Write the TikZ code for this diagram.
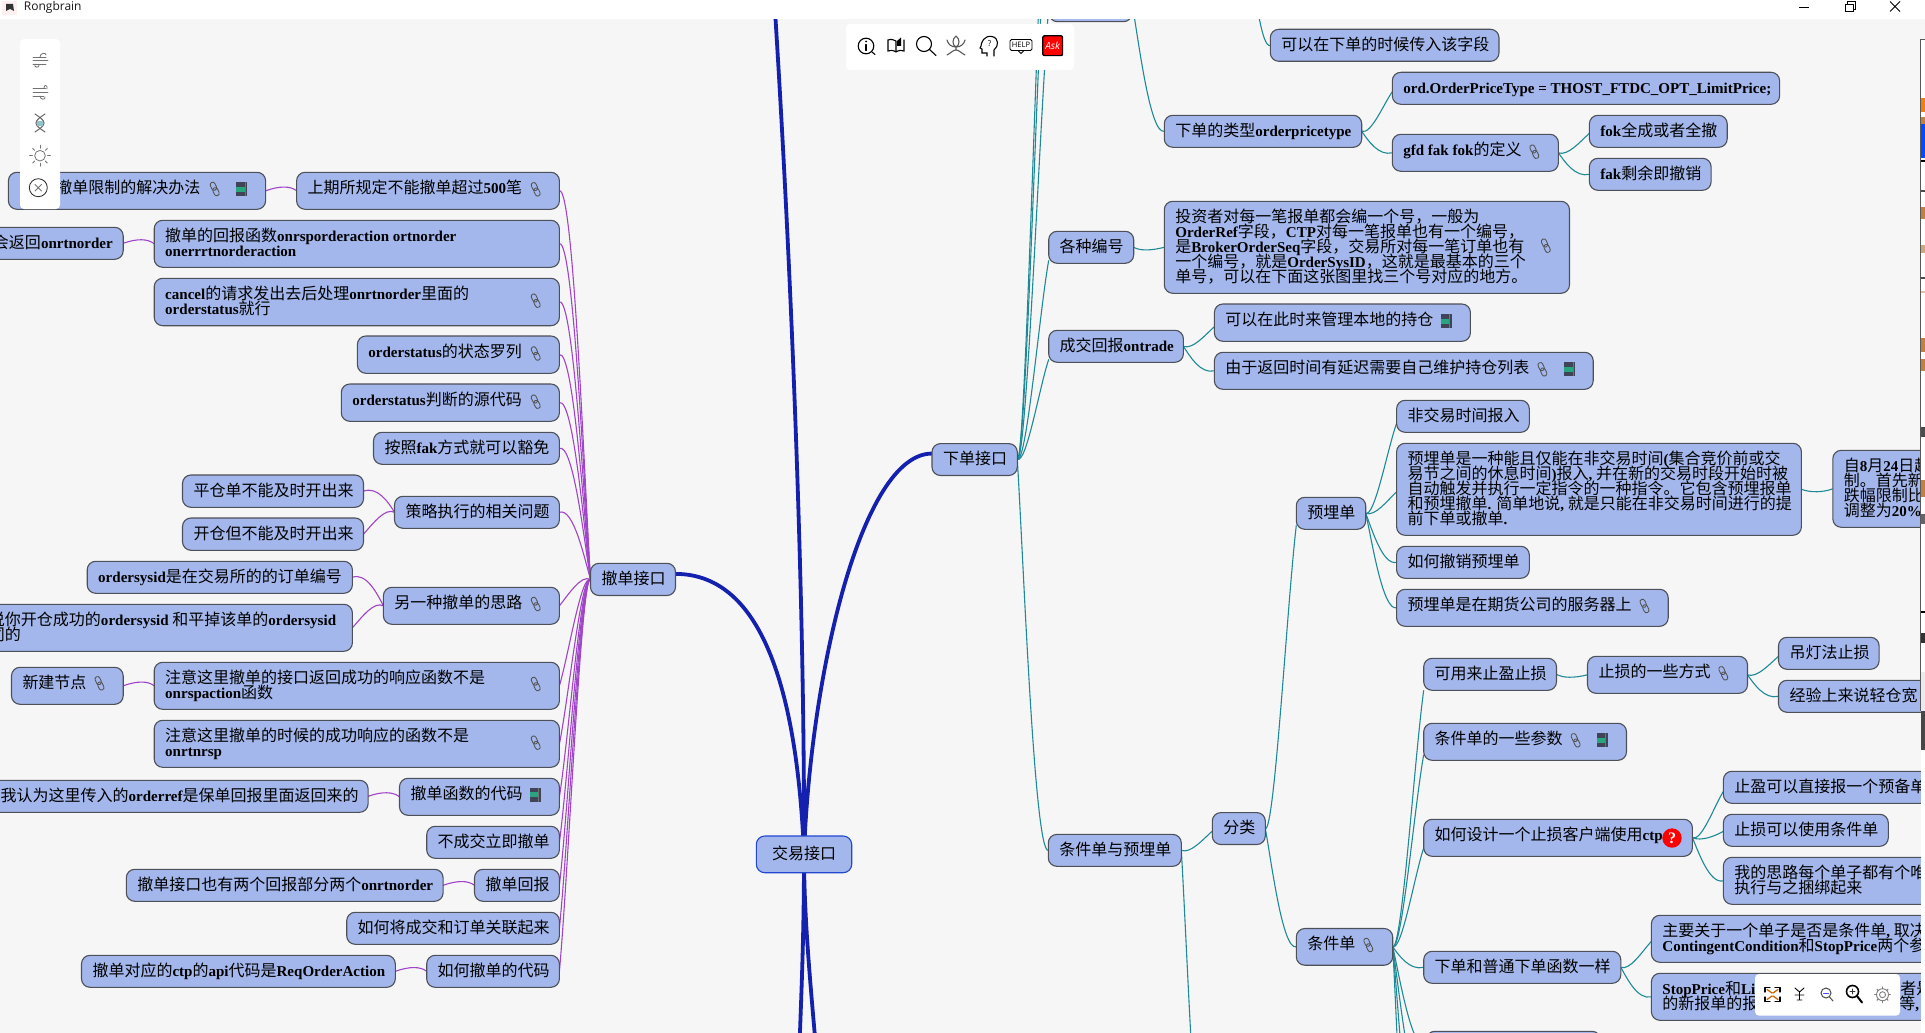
\documentclass[tikz,border=0pt]{standalone}
\usepackage{fontspec}
\setmainfont{Liberation Serif}
\newfontfamily\latfam{Liberation Serif}[Scale=0.94]
\newfontfamily\cjkfam{Noto Sans CJK SC}
\newfontfamily\uifam{Open Sans}
\usetikzlibrary{calc,backgrounds}
\definecolor{cbg}{HTML}{F6F6F6}
\definecolor{cfill}{HTML}{A3B7EC}
\definecolor{cedge}{HTML}{4D5058}
\definecolor{cteal}{HTML}{1F8A96}
\definecolor{cpurp}{HTML}{A044C8}
\definecolor{croot}{HTML}{1420AE}
\definecolor{crootb}{HTML}{2248D0}
\definecolor{cink}{HTML}{160A20}
\definecolor{cbook}{HTML}{3F4458}
\definecolor{cband}{HTML}{2AA37F}
\newcount\mycnt
\chardef\cjkclass=100
\mycnt="4E00
\loop\XeTeXcharclass\mycnt=\cjkclass\ifnum\mycnt<"9FFF\advance\mycnt by 1\repeat
\XeTeXcharclass"FF0C=\cjkclass
\XeTeXcharclass"3002=\cjkclass
\def\latsw{\latfam\bfseries}
\def\cjksw{\cjkfam\mdseries}
\XeTeXinterchartoks 0 \cjkclass={\cjksw}
\XeTeXinterchartoks 4095 \cjkclass={\cjksw}
\XeTeXinterchartoks \cjkclass 0={\latsw}
\XeTeXinterchartoks \cjkclass 4095={\latsw}
\XeTeXinterchartoks 4095 0={\latsw}
\XeTeXinterchartokenstate=1
\def\noint{\XeTeXinterchartokenstate=0\relax}
\tikzset{
 mbox/.style={draw=cedge,fill=cfill,line width=1.1pt,rounded corners=8.5pt,inner sep=0pt,outer sep=0pt,text=black,font=\fontsize{16}{15}\selectfont},
 rootbox/.style={mbox,draw=crootb},
 tealline/.style={draw=cteal,line width=1.1pt},
 purpline/.style={draw=cpurp,line width=1.1pt},
 rootline/.style={draw=croot,line width=3.8pt},
 panel/.style={fill=white,draw=none,rounded corners=4pt},
 iconline/.style={draw=black,line width=1.1pt},
 greyicon/.style={draw=black!55,line width=.8pt},
 linkicon/.style={draw=black!68,line width=.85pt},
 uitext/.style={inner sep=0pt,font=\noint\uifam\fontsize{#1}{#1}\selectfont},
 endpt/.style={inner sep=0pt,minimum size=0pt,outer sep=0pt}
}
\newcommand\bx[7][11]{%
 \pgfmathsetmacro\bW{#5-#3}\pgfmathsetmacro\bH{#6-#4}%
 \node[mbox,anchor=north west] (#2) at (#3,#4) {\parbox[c][\bH pt][t]{\bW pt}{\lineskiplimit=-100pt \leftskip=#1pt \rightskip=-600pt \parfillskip=0pt plus 1fil \leavevmode\rule{0pt}{21pt}#7}};}
\newcommand\off[3]{\node[endpt] (#1) at (#2,#3) {};}
\newcommand\cR[3][0]{\draw[tealline] let \p1=(#2.east),\p2=(#3.west),\n1={\x2-\x1},\n2={\y2-#1pt-\y1},\n3={ifthenelse(\y2>\y1,1,0)} in (\p1) .. controls ({\x1+(0.2+0.1*\n3)*\n1},{\y1+(0.25-0.25*\n3)*\n2-3.5pt}) and ({\x1+(0.55+0.15*\n3)*\n1},{\y1+(1-0.25*\n3)*\n2-3.5pt}) .. (\x2,{\y2-#1pt});}
\newcommand\cL[2]{\draw[purpline] let \p1=(#1.west),\p2=(#2.east),\n1={\x2-\x1},\n2={\y2-\y1},\n3={ifthenelse(\y2<\y1,1,0)} in (\p1) .. controls ({\x1+(0.2+0.1*\n3)*\n1},{\y1+(0.25-0.25*\n3)*\n2+5pt}) and ({\x1+(0.55+0.15*\n3)*\n1},{\y1+(1-0.25*\n3)*\n2+5pt}) .. (\p2);}
\newcommand\lk[2]{\begin{scope}[shift={(#1,#2)},rotate=-65]
 \draw[linkicon,rounded corners=2.4pt] (-7.2,-2.5) rectangle (1.2,2.5);
 \draw[linkicon,rounded corners=2.4pt] (-1.2,-2.5) rectangle (7.2,2.5);
 \end{scope}}
\newcommand\bk[2]{\begin{scope}[shift={(#1,#2)}]
 \fill[cbook] (-5.2,-7) rectangle (5.2,7);
 \fill[cband] (-5.2,-2.5) rectangle (3,2.5);
 \fill[black!55] (3,-7) rectangle (3.8,7);
 \end{scope}}
\begin{document}
\begin{tikzpicture}[x=1pt,y=-1pt]
\useasboundingbox (0,0) rectangle (1925,1033);
\begin{pgfonlayer}{background}
\fill[cbg] (0,0) rectangle (1925,1033);
\end{pgfonlayer}
% ---- centre
\node[rootbox,anchor=north west] (root) at (756.3,836) {\parbox[c][36.7pt][t]{95.4pt}{\lineskiplimit=-100pt \leftskip=15.7pt \rightskip=-600pt \leavevmode\rule{0pt}{23pt}交易接口}};
% ---- left side
\bx[11]{che}{590.5}{563.3}{675.5}{595.5}{撤单接口}
\bx[48]{limit}{8.4}{172.3}{265.6}{209.3}{撤单限制的解决办法}
\bx{b500}{296.6}{172.3}{559.4}{209.3}{上期所规定不能撤单超过500笔}
\bx{onrt}{-18}{227.3}{123.2}{259.3}{会返回onrtnorder}
\bx{func}{154.2}{220.3}{559.4}{267.3}{撤单的回报函数onrsporderaction ortnorder\\onerrrtnorderaction}
\bx{cancel}{154.2}{278.3}{559.4}{325.7}{cancel的请求发出去后处理onrtnorder里面的\\orderstatus就行}
\bx{slist}{357.4}{336}{559.4}{373.3}{orderstatus的状态罗列}
\bx{ssrc}{341.3}{384}{559.4}{421.3}{orderstatus判断的源代码}
\bx{fak}{373.5}{432.3}{559.4}{464.3}{按照fak方式就可以豁免}
\bx{ping}{182.5}{475}{363.5}{507.3}{平仓单不能及时开出来}
\bx{kai}{182.5}{518}{363.5}{550.3}{开仓但不能及时开出来}
\bx{strat}{394.5}{496.3}{559.4}{528.3}{策略执行的相关问题}
\bx{sysid}{87.2}{561.3}{352.4}{593.3}{ordersysid是在交易所的的订单编号}
\bx{shuo}{-22}{604.3}{352.4}{651.3}{说你开仓成功的ordersysid 和平掉该单的ordersysid\\同的}
\bx{other}{383.4}{587.3}{559.4}{624.3}{另一种撤单的思路}
\bx{newn}{11.5}{667.3}{123.2}{704.3}{新建节点}
\bx{att1}{154.2}{662.3}{559.4}{709.3}{注意这里撤单的接口返回成功的响应函数不是\\onrspaction函数}
\bx{att2}{154.2}{720.3}{559.4}{767.3}{注意这里撤单的时候的成功响应的函数不是\\onrtnrsp}
\bx{oref}{-10.4}{780.3}{368.1}{812.3}{我认为这里传入的orderref是保单回报里面返回来的}
\bx{cfun}{399.5}{778.3}{559.4}{815.3}{撤单函数的代码}
\bx{nofill}{426.7}{826.3}{559.4}{858.3}{不成交立即撤单}
\bx{two}{126.3}{869.3}{443.1}{901.3}{撤单接口也有两个回报部分两个onrtnorder}
\bx{rep}{474.5}{869.3}{559.4}{901.3}{撤单回报}
\bx{rel}{346.7}{912.3}{559.4}{944.3}{如何将成交和订单关联起来}
\bx{ctp}{81.5}{955.3}{395.3}{987.3}{撤单对应的ctp的api代码是ReqOrderAction}
\bx{how}{426.7}{955.3}{559.4}{987.3}{如何撤单的代码}
% ---- right side
\bx{xia}{932}{443.6}{1017.3}{475.5}{下单接口}
\bx{stub}{1049}{-15}{1132}{21.7}{}
\bx{chuan}{1270.3}{29.3}{1499}{61.3}{可以在下单的时候传入该字段}
\bx{xtype}{1164.3}{115.3}{1361.7}{147.3}{下单的类型orderpricetype}
\bx{ordp}{1392.3}{72.3}{1779.6}{104.3}{ord.OrderPriceType = THOST\_FTDC\_OPT\_LimitPrice;}
\bx{gfd}{1392.3}{134.3}{1558.4}{171.3}{gfd fak fok的定义}
\bx{fok}{1589.4}{115.3}{1727.2}{147.3}{fok全成或者全撤}
\bx{fakr}{1589.4}{158.3}{1711.1}{190.3}{fak剩余即撤销}
\bx{bian}{1048.7}{231.3}{1133.7}{263.3}{各种编号}
\bx{tou}{1164.3}{201.3}{1569.5}{293.3}{投资者对每一笔报单都会编一个号，一般为\\OrderRef字段，CTP对每一笔报单也有一个编号，\\是BrokerOrderSeq字段，交易所对每一笔订单也有\\一个编号，就是OrderSysID，这就是最基本的三个\\单号，可以在下面这张图里找三个号对应的地方。}
\bx{cheng}{1048.7}{330.3}{1183.4}{362.3}{成交回报ontrade}
\bx{guan}{1214.4}{304}{1470.4}{341.3}{可以在此时来管理本地的持仓}
\bx{yan}{1214.4}{352.3}{1593.2}{389.3}{由于返回时间有延迟需要自己维护持仓列表}
\bx{tj}{1048.3}{834.4}{1181.3}{866.3}{条件单与预埋单}
\bx{fen}{1212.3}{812.6}{1265.3}{844.5}{分类}
\bx{ymd}{1296.3}{497.3}{1365.7}{529.3}{预埋单}
\bx{fei}{1396.6}{400.3}{1529.3}{432.3}{非交易时间报入}
\bx{yms}{1396.6}{443.3}{1801.4}{535.3}{预埋单是一种能且仅能在非交易时间(集合竞价前或交\\易节之间的休息时间)报入, 并在新的交易时段开始时被\\自动触发并执行一定指令的一种指令。它包含预埋报单\\和预埋撤单. 简单地说, 就是只能在非交易时间进行的提\\前下单或撤单.}
\bx{aug}{1832.8}{450.3}{1960}{527.3}{自8月24日起\\制。首先新\\跌幅限制比\\调整为20\%}
\bx{hecx}{1396.6}{546.3}{1529.3}{578.3}{如何撤销预埋单}
\bx{qihuo}{1396.6}{589.3}{1668.2}{626.3}{预埋单是在期货公司的服务器上}
\bx{tjd}{1296.3}{928.5}{1392.7}{965.2}{条件单}
\bx{keyong}{1423.7}{658.3}{1556.5}{690.3}{可用来止盈止损}
\bx{fang}{1587.5}{656.3}{1747.5}{693.3}{止损的一些方式}
\bx{diao}{1778.5}{637.3}{1879.1}{669.3}{吊灯法止损}
\bx{jing}{1778.5}{680.3}{1960}{712.3}{经验上来说轻仓宽}
\bx{canshu}{1423.7}{723.3}{1626.5}{760.3}{条件单的一些参数}
\bx{sheji}{1423.7}{819.3}{1692.4}{856.3}{如何设计一个止损客户端使用ctp}
\bx{zy}{1723.4}{771.3}{1960}{803.3}{止盈可以直接报一个预备单}
\bx{zs}{1723.4}{814.3}{1888.3}{846.3}{止损可以使用条件单}
\bx{silu}{1723.4}{857.3}{1960}{904.3}{我的思路每个单子都有个唯\\执行与之捆绑起来}
\bx{putong}{1423.7}{951.3}{1620.8}{983.3}{下单和普通下单函数一样}
\bx{zhu}{1651.4}{915.3}{1960}{962.3}{主要关于一个单子是否是条件单, 取决\\ContingentCondition和StopPrice两个参}
\bx{stop}{1651.4}{973.3}{1960}{1020.3}{StopPrice和Li\hspace{145pt}者是\\的新报单的报\hspace{141pt}等,}
\bx{lastb}{1426.4}{1031.3}{1600.5}{1063}{}
% free ends
\off{offA}{1043}{-90}
\off{offB}{1045}{-70}
\off{offP}{1252}{-25}
\off{offD}{1212}{1248}
\off{offE}{1423.7}{1095}
\off{offF}{1423.7}{1193}
\off{offG}{1423.7}{1377}
\off{offTop}{774}{-5}
\off{offB1}{799}{1060}
\off{offB2}{817}{1060}
\begin{pgfonlayer}{background}
% root curves
\draw[rootline] let \p1=(root.center),\p2=($(che.east)+(0,-5.5)$),\n1={\x2-\x1},\n2={\y2-\y1} in (\p1) .. controls ({\x1+0.05*\n1},{\y1+0.55*\n2}) and ({\x1+0.3*\n1},\y2) .. (\p2);
\draw[rootline] let \p1=(root.center),\p2=($(xia.west)+(0,-6)$),\n1={\x2-\x1},\n2={\y2-\y1} in (\p1) .. controls ({\x1+0.05*\n1},{\y1+0.45*\n2}) and ({\x1+0.45*\n1},\y2) .. (\p2);
\draw[rootline] (root.center) .. controls (804.8,600) and (791,260) .. (offTop);
\draw[rootline] (root.center) .. controls (804,940) and (801,1000) .. (offB1);
\draw[rootline] (root.center) .. controls (804,920) and (811,990) .. (offB2);
% left side
\foreach \c in {b500,func,cancel,slist,ssrc,fak,strat,other,att1,att2,cfun,nofill,rep,rel,how} {\cL{che}{\c}}
\cL{b500}{limit}\cL{func}{onrt}\cL{strat}{ping}\cL{strat}{kai}\cL{other}{sysid}\cL{other}{shuo}
\cL{att1}{newn}\cL{cfun}{oref}\cL{rep}{two}\cL{how}{ctp}
% right side
\cR{xia}{offA}\cR{xia}{offB}\cR{xia}{stub}\cR[13]{xia}{bian}\cR[13]{xia}{cheng}\cR{xia}{tj}
\cR{offP}{chuan}\cR{stub}{xtype}\cR[3.4]{xtype}{ordp}\cR{xtype}{gfd}\cR[2]{gfd}{fok}\cR{gfd}{fakr}
\cR{bian}{tou}\cR[4]{cheng}{guan}\cR{cheng}{yan}
\cR[2.5]{tj}{fen}\cR{tj}{offD}\cR[12]{fen}{ymd}\cR{fen}{tjd}
\cR[7]{ymd}{fei}\cR[2.4]{ymd}{yms}\cR{ymd}{hecx}\cR{ymd}{qihuo}\cR{yms}{aug}
\cR[16]{tjd}{keyong}\cR[13]{tjd}{canshu}\cR[10]{tjd}{sheji}\cR{tjd}{putong}
\cR{tjd}{offE}\cR{tjd}{offF}\cR{tjd}{offG}\cR{tjd}{lastb}
\cR{keyong}{fang}\cR[3]{fang}{diao}\cR{fang}{jing}
\cR[4]{sheji}{zy}\cR[1]{sheji}{zs}\cR{sheji}{silu}
\cR[2.5]{putong}{zhu}\cR{putong}{stop}
\end{pgfonlayer}
% link and book icons
\lk{214.7}{189}\bk{241.5}{189}\lk{535.7}{189.3}\lk{535.7}{300.7}\lk{535.7}{353.5}\lk{535.7}{401.7}
\lk{535.7}{604}\lk{99.5}{683.3}\lk{535.7}{684}\lk{535.7}{742.7}\bk{535.3}{794.7}
\lk{1534.3}{151.7}\lk{1545.8}{245.7}\bk{1446.3}{321}\lk{1542.4}{369.3}\bk{1569.5}{369}
\lk{1644.5}{606}\lk{1368.3}{945}\lk{1723.3}{673.3}\lk{1575.6}{740.3}\bk{1602.4}{740}
\node[circle,fill=red,inner sep=0pt,minimum size=19.4pt,text=white,font=\noint\rmfamily\bfseries\fontsize{16}{16}\selectfont] (qm) at (1672,838) {?};
% right window edge
\fill[white] (1920.6,39) rectangle (1925,1033);
\foreach \a/\b/\cc in {97.6/112/orange!70!brown,117/131/brown,124/158/blue!70!cyan,160/161.5/black,190/192/black!70,206.6/219/brown,245/253/brown!70,277/279/black!70,291/293/brown!50,337.5/352/brown,359/371/brown,427/437/black!70,480/497/brown,514/524/black!60,611/613/black,633/643/black!80} {\fill[\cc] (1921,\a) rectangle (1925,\b);}
\fill[black!8] (1921,672) rectangle (1925,710.7);
\fill[black!72] (1920.6,710.7) rectangle (1925,749.5);
\draw[black!65,line width=.8pt] (1920.6,39) -- (1920.6,710.7) (1920.6,39) -- (1925,39);
% title bar
\fill[white] (0,0) rectangle (1925,19);
\fill[red!6] (2,1) rectangle (17,15);
\fill[black!80] (6,4) -- (13,4) -- (14,11) -- (10,9) -- (6,11) -- cycle;
\node[uitext=12,anchor=west,text=black!90] (titlet) at (23.7,7.5) {Rongbrain};
\draw[black,line width=.9pt] (1799,7) -- (1809,7);
\draw[black,line width=.9pt] (1845,4) rectangle (1853,11.5) (1847,4) -- (1847,1.5) -- (1855,1.5) -- (1855,9) -- (1853,9);
\draw[black,line width=.9pt] (1890,1.5) -- (1900,11.5) (1890,11.5) -- (1900,1.5);
% left tool panel
\fill[panel] (20,39) rectangle (60,209);
\begin{scope}[greyicon,line cap=round]
\draw (33,57) -- (46,57) (33,60.5) -- (48,60.5) (33,64) -- (46,64);
\draw (40,57) .. controls (40,53) and (46,52) .. (46,55) (35,64) .. controls (33,68) and (40,68) .. (39,65);
\draw (33,88) -- (46,88) (33,92) -- (48,92) (33,96) -- (44,96);
\draw (44,88) .. controls (44,84) and (48,85) .. (47,89) (40,96) .. controls (40,100) and (46,100) .. (45,97);
\draw[line width=1pt,black!60] (35,114) .. controls (47,122) and (47,124) .. (35,132) (45,114) .. controls (33,122) and (33,124) .. (45,132);
\fill[cteal!50] (37,121) rectangle (43,126);
\draw (40,155.7) circle (5.3);
\foreach \a in {0,45,...,315} {\draw (40,155.7) ++(\a:7.5) -- ++(\a:3);}
\draw[black!85] (38.3,187.7) circle (9);
\draw (35,184.5) -- (41.5,191) (41.5,184.5) -- (35,191);
\end{scope}
% top tool panel
\fill[panel] (846,24) rectangle (1074,70);
\begin{scope}[iconline,line cap=round]
\draw (866,46) circle (7.8);
\draw (872,52) -- (875,54.5);
\fill (866,41.5) circle (1);
\draw (866,44.5) -- (866,50.5);
\draw (896,41) .. controls (892,39) and (889,39) .. (888,40) -- (888,51) .. controls (890,50) and (893,50) .. (896,52) .. controls (899,50) and (902,50) .. (904,51) -- (904,40) (896,41) -- (896,52);
\fill (897,46) -- (897,41) -- (901,37.5) -- (901,46) -- cycle;
\draw (924,44) circle (7.5);
\draw (929.5,49.5) -- (936,55.5);
\draw[black!65] (956,36) .. controls (952,39) and (952,45) .. (956,47) .. controls (960,45) and (960,39) .. (956,36) (956,47) .. controls (951,47) and (948,44) .. (947,40) (956,47) .. controls (961,47) and (964,44) .. (965,40) (956,47) -- (956,50) (947,55) .. controls (951,53) and (953,50) .. (956,50) .. controls (959,50) and (961,53) .. (965,55);
\draw (994,56) -- (994,50) .. controls (999,46) and (999,38) .. (992,36.5) .. controls (984,35) and (981,43) .. (981,46) -- (980,48) -- (982,49) -- (982,53) -- (987,53) -- (987,56);
\end{scope}
\node[uitext=8,text=black] (qhead) at (989.5,43.5) {?};
\draw[black,line width=.9pt,rounded corners=1.5pt] (1010,39.5) rectangle (1032,50.5);
\draw[black,line width=.8pt] (1018,50.5) -- (1021,53.5) -- (1024,50.5);
\node[uitext=7.5,text=black] (helpt) at (1021,45) {HELP};
\fill[black,rounded corners=2pt] (1042.2,35.2) rectangle (1063.2,56.2);
\fill[red,rounded corners=1.5pt] (1043.4,36.4) rectangle (1062,55);
\node[inner sep=0pt,text=white,font=\noint\uifam\itshape\fontsize{10}{10}\selectfont] (askt) at (1052.7,45.7) {Ask};
% bottom right panel
\fill[panel] (1755,974) rectangle (1900,1015.7);
\begin{scope}[line cap=round]
\draw[black,line width=1.3pt] (1765,987.5) -- (1765,992) (1765,987.5) -- (1770,987.5) (1780,987.5) -- (1775,987.5) (1780,987.5) -- (1780,992) (1765,1001.5) -- (1765,997) (1765,1001.5) -- (1770,1001.5) (1780,1001.5) -- (1775,1001.5) (1780,1001.5) -- (1780,997);
\draw[orange!80!black,line width=1.3pt] (1767,989.5) -- (1772,993) (1778,989.5) -- (1773,993) (1767,999.5) -- (1772,996) (1778,999.5) -- (1773,996);
\draw[black,line width=.9pt] (1795,988) -- (1799.5,992) -- (1804,988) (1795,995) -- (1804,995) (1799.5,992) -- (1799.5,1000) (1797,1000) -- (1802,1000);
\draw[black!70,line width=1pt] (1826,993) circle (5);
\draw[blue!70,line width=1pt] (1823.5,993) -- (1828.5,993);
\draw[black!70,line width=1pt] (1829.5,997) -- (1833,1001);
\draw[black,line width=1.6pt] (1852.5,991.5) circle (6);
\draw[black,line width=2pt] (1857,996) -- (1862,1002.5);
\draw[black!80,line width=.8pt] (1850,991.5) -- (1855,991.5) (1852.5,989) -- (1852.5,994);
\draw[black!50,line width=.9pt] (1882.5,994.7) circle (3);
\draw[black!50,line width=.9pt] (1882.5,994.7) circle (6);
\foreach \a in {0,45,...,315} {\draw[black!50,line width=1.2pt] (1882.5,994.7) ++(\a:6) -- ++(\a:1.8);}
\end{scope}
\end{tikzpicture}
\end{document}
